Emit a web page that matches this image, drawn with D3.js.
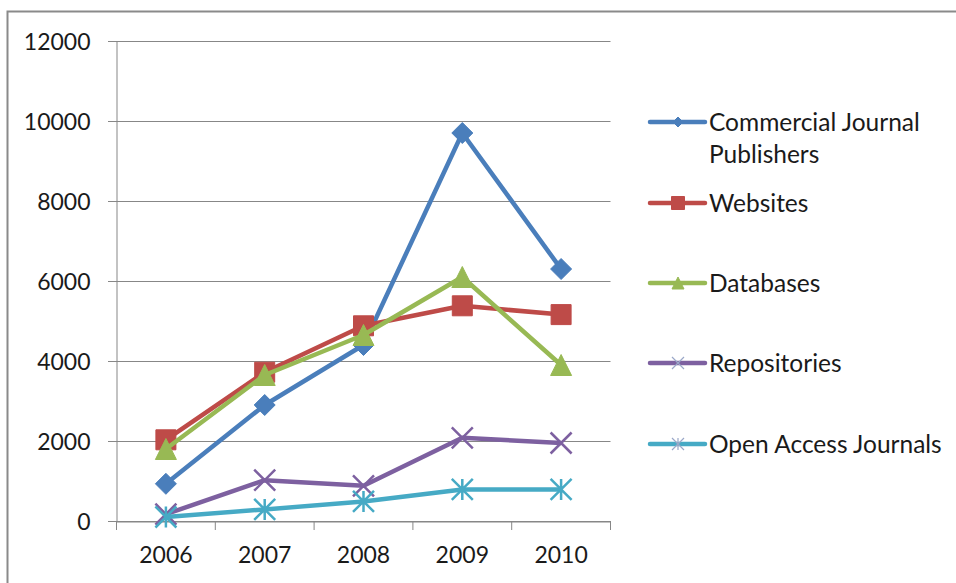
<!DOCTYPE html>
<html><head><meta charset="utf-8">
<script src="https://cdn.jsdelivr.net/npm/d3@7"></script>
<style>
html,body{margin:0;padding:0;background:#fff;}
svg{display:block;}
text{font-family:Lato,"Liberation Sans",sans-serif;fill:#1a1a1a;}
</style></head>
<body>
<svg id="chart" width="956" height="583"></svg>
<script>
const years = ["2006","2007","2008","2009","2010"];
const seriesNames = ["Commercial Journal Publishers","Websites","Databases","Repositories","Open Access Journals"];
const commercial = [930, 2900, 4400, 9700, 6300];
const websites = [2030, 3720, 4880, 5380, 5160];
const databases = [1800, 3650, 4650, 6100, 3900];
const repositories = [170, 1020, 880, 2080, 1950];
const openAccess = [100, 290, 490, 790, 790];
const yTicks = [0, 2000, 4000, 6000, 8000, 10000, 12000];
const colors = ["#4A7EBB", "#BE4B48", "#98B954", "#7D60A0", "#46AAC5"];
const markers = ["diamond", "square", "triangle", "x", "star"];
const allValues = [commercial, websites, databases, repositories, openAccess];

const svg = d3.select("#chart");
// outer chart border
svg.append("rect").attr("x", 7.5).attr("y", 11.5).attr("width", 960).attr("height", 600)
  .attr("fill", "#fff").attr("stroke", "#8a8a8a").attr("stroke-width", 2);

const x = d3.scaleBand().domain(years).range([116.5, 610.5]);
const y = d3.scaleLinear().domain([0, 12000]).range([521, 41]);

// gridlines
svg.append("g").selectAll("line").data(yTicks).join("line")
  .attr("x1", 108).attr("x2", 610.5)
  .attr("y1", d => Math.round(y(d)) + 0.5).attr("y2", d => Math.round(y(d)) + 0.5)
  .attr("stroke", "#878787").attr("stroke-width", 1);

// y axis
const yAxis = svg.append("g").attr("transform", "translate(116.5,0)")
  .call(d3.axisLeft(y).tickValues(yTicks).tickSize(0).tickPadding(26).tickFormat(d3.format("d")));
yAxis.select(".domain").attr("stroke", "#878787");
yAxis.selectAll("text").style("font-size", "23px").attr("fill", "#1a1a1a").attr("dy", "0.36em");

// x axis
const xAxis = svg.append("g").attr("transform", "translate(0,521.5)")
  .call(d3.axisBottom(x).tickSize(0).tickPadding(25));
xAxis.select(".domain").attr("stroke", "#878787");
xAxis.selectAll("text").style("font-size", "23px").attr("fill", "#1a1a1a");
// tick marks at band boundaries
const bounds = years.map(d => x(d)).concat([x.range()[1]]);
svg.append("g").selectAll("line").data(bounds).join("line")
  .attr("x1", d => d).attr("x2", d => d).attr("y1", 521).attr("y2", 530)
  .attr("stroke", "#878787");

function markerPath(type, s) {
  const h = s / 2;
  switch (type) {
    case "diamond": return `M0,${-h}L${h},0L0,${h}L${-h},0Z`;
    case "square": return `M${-h},${-h}H${h}V${h}H${-h}Z`;
    case "triangle": return `M0,${-h}L${h},${h}L${-h},${h}Z`;
    case "x": return `M${-h},${-h}L${h},${h}M${h},${-h}L${-h},${h}`;
    case "star": return `M${-h},${-h}L${h},${h}M${h},${-h}L${-h},${h}M0,${-h}V${h}`;
  }
}

const line = d3.line().x((d, i) => x(years[i]) + x.bandwidth() / 2).y(d => y(d));

allValues.forEach((vals, si) => {
  const g = svg.append("g");
  g.append("path").datum(vals).attr("d", line).attr("fill", "none")
    .attr("stroke", colors[si]).attr("stroke-width", 4.5).attr("stroke-linejoin", "round");
  const type = markers[si];
  const size = type === "square" ? 20 : 21;
  g.selectAll("path.m").data(vals).join("path").attr("class", "m")
    .attr("transform", (d, i) => `translate(${x(years[i]) + x.bandwidth() / 2},${y(d)})`)
    .attr("d", markerPath(type, size))
    .attr("fill", (type === "x" || type === "star") ? "none" : colors[si])
    .attr("stroke", colors[si])
    .attr("stroke-width", (type === "x" || type === "star") ? 2.5 : 1);
});

// legend
const legendY = [122, 203, 283, 363, 444];
const legend = svg.append("g");
seriesNames.forEach((name, i) => {
  const g = legend.append("g").attr("transform", `translate(0,${legendY[i]})`);
  g.append("line").attr("x1", 650).attr("x2", 705).attr("y1", 0).attr("y2", 0)
    .attr("stroke", colors[i]).attr("stroke-width", 4.5).attr("stroke-linecap", "round");
  const type = markers[i];
  const s = type === "square" ? 13 : (type === "diamond" ? 10 : 12);
  g.append("path").attr("transform", "translate(678,0)").attr("d", markerPath(type, s))
    .attr("fill", (type === "x" || type === "star") ? "none" : colors[i])
    .attr("stroke", (type === "x" || type === "star") ? "#9aa8c8" : colors[i])
    .attr("stroke-width", (type === "x" || type === "star") ? 1.2 : 1);
  const t = g.append("text").attr("x", 709).attr("y", 0).attr("dy", "0.35em").style("font-size", "24.5px");
  if (i === 0) {
    t.text("Commercial Journal");
    g.append("text").attr("x", 709).attr("y", 32).attr("dy", "0.35em").style("font-size", "24.5px").text("Publishers");
  } else {
    t.text(name);
  }
});
</script>
</body></html>
